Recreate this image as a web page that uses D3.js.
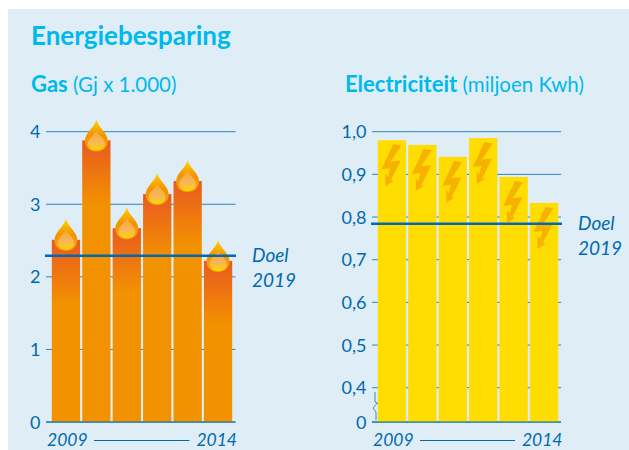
<!DOCTYPE html>
<html>
<head>
<meta charset="utf-8">
<script src="https://cdn.jsdelivr.net/npm/d3@7"></script>
<style>
  html, body { margin: 0; padding: 0; background: #fff; }
  text { font-family: "Lato", sans-serif; }
</style>
</head>
<body>
<svg id="chart" style="display:block"></svg>
<script>
const width = 629
const height = 450

const years = ["2009", "2010", "2011", "2012", "2013", "2014"]
const gas_values = [2.51, 3.88, 2.67, 3.14, 3.32, 2.22]
const gas_ticks = [0, 1, 2, 3, 4]
const gas_goal = 2.29
const elec_values = [0.98, 0.969, 0.941, 0.985, 0.894, 0.833]
const elec_ticks = [0, 0.4, 0.5, 0.6, 0.7, 0.8, 0.9, 1.0]
const elec_goal = 0.784

const blue = "#0069B1"
const cyan = "#00B9EC"

const svg = d3.select("#chart").attr("width", width).attr("height", height)
const defs = svg.append("defs")

svg.append("rect").attr("x", 8).attr("y", 9).attr("width", width - 8).attr("height", height - 9).attr("fill", "#DFEEF6")

svg.append("text").attr("x", 31).attr("y", 45).attr("font-size", 26).attr("font-weight", 700)
  .attr("fill", cyan).text("Energiebesparing")

const subtitle = (x, bold, rest) => {
  let t = svg.append("text").attr("x", x).attr("y", 92).attr("font-size", 20.5).attr("fill", cyan)
  t.append("tspan").attr("font-weight", 700).attr("font-size", 22).text(bold)
  t.append("tspan").text(" " + rest)
}
subtitle(31, "Gas", "(Gj x 1.000)")
subtitle(345, "Electriciteit", "(miljoen Kwh)")

// flame gradients
let outer = defs.append("linearGradient").attr("id", "flame_outer").attr("x1", 0).attr("x2", 0).attr("y1", 0).attr("y2", 1)
outer.append("stop").attr("offset", 0).attr("stop-color", "#FFD500")
outer.append("stop").attr("offset", 0.5).attr("stop-color", "#F39200")
outer.append("stop").attr("offset", 1).attr("stop-color", "#F6A800")
let inner = defs.append("linearGradient").attr("id", "flame_inner").attr("x1", 0).attr("x2", 0).attr("y1", 0).attr("y2", 1)
inner.append("stop").attr("offset", 0).attr("stop-color", "#F5A83C")
inner.append("stop").attr("offset", 0.6).attr("stop-color", "#F8B65A")
inner.append("stop").attr("offset", 1).attr("stop-color", "#FFD500")

const flame = (g, cx, top) => {
  let f = g.append("g").attr("transform", `translate(${cx},${top})`)
  f.append("path").attr("fill", "url(#flame_outer)")
    .attr("d", "M0,0 C1.5,8 11.5,13 11.5,21.5 C11.5,28 6,32 0,32 C-6,32 -11.5,28 -11.5,21.5 C-11.5,13 -1.5,8 0,0 Z")
  f.append("path").attr("fill", "url(#flame_inner)")
    .attr("d", "M0,11 C1.5,15 8.5,19 8.5,24 C8.5,28.5 4.5,31 0,31 C-4.5,31 -8.5,28.5 -8.5,24 C-8.5,19 -1.5,15 0,11 Z")
}

const bolt = (g, x, top) => {
  g.append("path").attr("transform", `translate(${x},${top})`).attr("fill", "#F7B200")
    .attr("d", "M11.7,1 L19.7,2.3 L9.3,18.3 L19.3,17.3 L9.3,37.3 L12.3,37.7 L3.8,43 L3.8,30 L6.5,33.3 L8.5,25 L0,26 Z")
}

const draw_panel = (opts) => {
  let g = svg.append("g")
  let x = d3.scaleBand(years, opts.x_range).paddingInner(0.07)
  let grid_x = opts.grid

  g.append("g").selectAll("line").data(opts.ticks).join("line")
    .attr("x1", grid_x[0]).attr("x2", grid_x[1])
    .attr("y1", d => opts.y(d)).attr("y2", d => opts.y(d))
    .attr("stroke", blue).attr("stroke-opacity", 0.8).attr("stroke-width", 1)

  g.append("g").selectAll("text").data(opts.ticks).join("text")
    .attr("x", grid_x[0] - 5.5).attr("y", d => opts.y(d) + 6.5)
    .attr("text-anchor", "end").attr("font-size", 18).attr("fill", blue)
    .text(opts.format)

  if (opts.gradient) {
    opts.values.forEach((v, i) => {
      let grad = defs.append("linearGradient").attr("id", "bar_" + i)
        .attr("gradientUnits", "userSpaceOnUse").attr("x1", 0).attr("x2", 0)
        .attr("y1", opts.y(v)).attr("y2", opts.y(v) + 65)
      grad.append("stop").attr("offset", 0).attr("stop-color", "#E95A20")
      grad.append("stop").attr("offset", 1).attr("stop-color", "#F39200")
    })
  }

  g.append("g").selectAll("rect").data(opts.values).join("rect")
    .attr("x", (d, i) => x(years[i])).attr("width", x.bandwidth())
    .attr("y", d => opts.y(d)).attr("height", d => opts.y(0) - opts.y(d))
    .attr("fill", (d, i) => opts.gradient ? `url(#bar_${i})` : "#FFDD00")

  opts.values.forEach((v, i) => opts.icon(g, x(years[i]), opts.y(v), x.bandwidth()))

  // baseline on top of the bars
  g.append("line").attr("x1", grid_x[0]).attr("x2", grid_x[1]).attr("y1", opts.y(0)).attr("y2", opts.y(0))
    .attr("stroke", blue).attr("stroke-width", 1)

  // goal line
  g.append("line").attr("x1", opts.goal_x[0]).attr("x2", opts.goal_x[1])
    .attr("y1", opts.y(opts.goal)).attr("y2", opts.y(opts.goal))
    .attr("stroke", blue).attr("stroke-width", 2.5)

  g.append("text").attr("x", opts.goal_label).attr("y", opts.y(opts.goal) + 6).attr("font-size", 19)
    .attr("font-style", "italic").attr("fill", blue).text("Doel")
  g.append("text").attr("x", opts.goal_label).attr("y", opts.y(opts.goal) + 31.5).attr("font-size", 19)
    .attr("font-style", "italic").attr("fill", blue).text("2019")

  // year range below the axis
  g.append("text").attr("x", grid_x[0] + 1).attr("y", 446).attr("font-size", 17.5)
    .attr("font-style", "italic").attr("fill", blue).text(years[0])
  g.append("text").attr("x", grid_x[1] + 1.5).attr("y", 446).attr("text-anchor", "end").attr("font-size", 17.5)
    .attr("font-style", "italic").attr("fill", blue).text(years[years.length - 1])
  g.append("line").attr("x1", grid_x[0] + 48).attr("x2", grid_x[1] - 46).attr("y1", 440.5).attr("y2", 440.5)
    .attr("stroke", blue).attr("stroke-width", 1)
}

draw_panel({
  values: gas_values,
  ticks: gas_ticks,
  goal: gas_goal,
  y: d3.scaleLinear([0, 4], [422, 131.7]),
  x_range: [51.8, 232.2],
  grid: [46, 235.5],
  goal_x: [45, 236],
  goal_label: 252,
  gradient: true,
  format: d => d,
  icon: (g, bx, by, bw) => flame(g, bx + bw / 2, by - 21)
})

draw_panel({
  values: elec_values,
  ticks: elec_ticks,
  goal: elec_goal,
  y: d3.scaleLinear([0, 0.4, 1.0], [422, 387.7, 131.7]),
  x_range: [377.8, 558.2],
  grid: [372, 561],
  goal_x: [371, 562],
  goal_label: 578,
  gradient: false,
  format: d => d === 0 ? "0" : d3.format(".1f")(d).replace(".", ","),
  icon: (g, bx, by) => bolt(g, bx + 3.7, by + 3)
})

// axis break marker
svg.append("path").attr("fill", "none").attr("stroke", blue).attr("stroke-opacity", 0.75).attr("stroke-width", 1)
  .attr("d", d3.line()([[375, 392], [375, 402], [377.5, 403], [373, 408], [376, 412], [376, 420]]))
</script>
</body>
</html>
